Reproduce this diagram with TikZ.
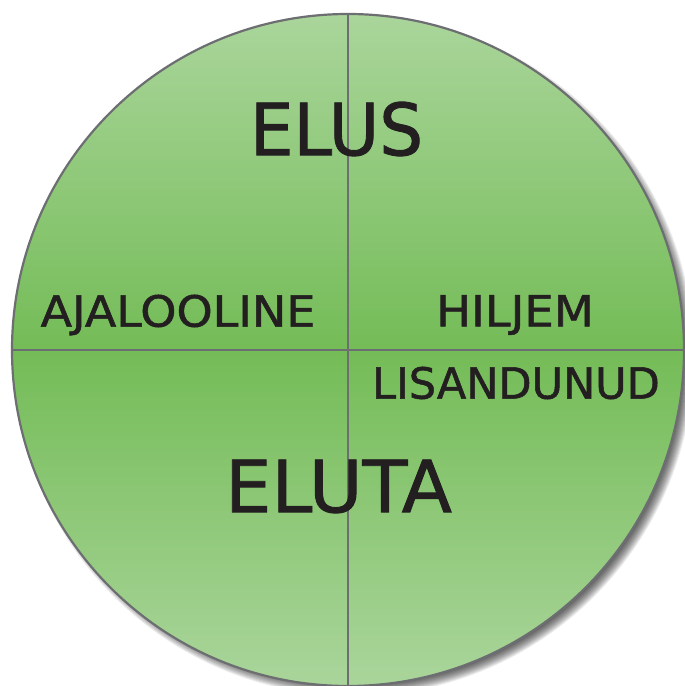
\documentclass[tikz,border=0pt]{standalone}
\usepackage{fontspec}
\usetikzlibrary{calc}
\setmainfont{DejaVu Sans}
\newfontfamily\lblfont[FakeBold=1.2]{DejaVu Sans}
\definecolor{lightg}{HTML}{AAD59B}
\definecolor{midg}{HTML}{74BC57}
\definecolor{rimgray}{HTML}{6D6E71}
\definecolor{txt}{HTML}{231F20}
\tikzset{
  big/.style={text=txt, font=\lblfont\fontsize{72}{72}\selectfont, inner sep=0pt, anchor=center},
  small/.style={text=txt, font=\lblfont\fontsize{43}{43}\selectfont, inner sep=0pt, anchor=center},
  divider/.style={draw=rimgray, line width=1.8pt}
}
\begin{document}
\begin{tikzpicture}[x=1pt,y=1pt]
\useasboundingbox (0,0) rectangle (685,686);
\clip (0,0) rectangle (685,686);
\coordinate (c) at (348,336);
% shadow
\foreach \r in {0,1,2,3,4,5,6,7,8,9,10,11}{
  \fill[black, opacity=0.075] ($(c)+(6,-6)$) circle ({329+\r});
}
\shade[top color=lightg, bottom color=lightg, middle color=midg] (c) circle (336);
\coordinate (top) at (348,672);
\coordinate (bot) at (348,0);
\coordinate (lft) at (12,336);
\coordinate (rgt) at (684,336);
\draw[divider] (top) -- (bot);
\draw[divider] (lft) -- (rgt);
\draw[draw=rimgray, line width=2.2pt] (c) circle (336);
\node[big] (elus) at (336.5,557) {\scalebox{0.96}[1]{ELUS}};
\node[big] (eluta) at (338.5,199.5) {\scalebox{1.02}[1]{ELUTA}};
\node[small] (ajal) at (178,371) {\scalebox{1.07}[1]{AJALOOLINE}};
\node[small] (hil) at (515,371) {\scalebox{1.08}[1]{HILJEM}};
\node[small] (lis) at (516,303) {\scalebox{1.0}[1]{LISANDUNUD}};
\end{tikzpicture}
\end{document}
